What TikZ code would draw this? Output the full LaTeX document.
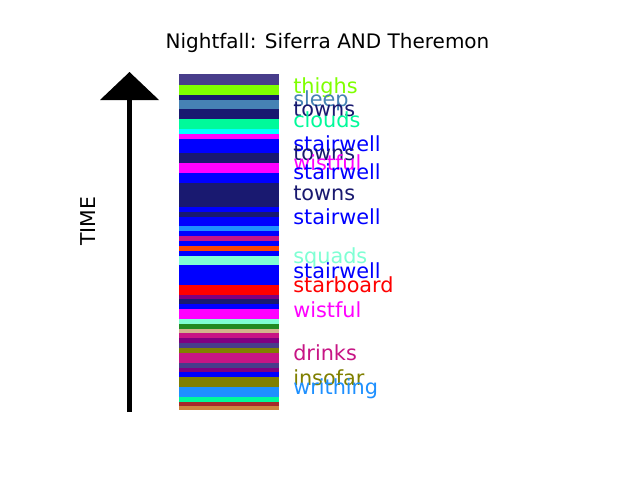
\documentclass[tikz,border=0pt]{standalone}
\usepackage{fontspec}
\setmainfont{DejaVu Sans}
\definecolor{dslateblue}{HTML}{483D8B}
\definecolor{chartr}{HTML}{7FFF00}
\definecolor{midnight}{HTML}{191970}
\definecolor{steel}{HTML}{4682B4}
\definecolor{mspring}{HTML}{00FA9A}
\definecolor{cyanc}{HTML}{00FFFF}
\definecolor{magentac}{HTML}{FF00FF}
\definecolor{bluec}{HTML}{0000FF}
\definecolor{dodger}{HTML}{1E90FF}
\definecolor{mviolet}{HTML}{C71585}
\definecolor{orangered}{HTML}{FF4500}
\definecolor{aquam}{HTML}{7FFFD4}
\definecolor{redc}{HTML}{FF0000}
\definecolor{purplec}{HTML}{800080}
\definecolor{forest}{HTML}{228B22}
\definecolor{tanc}{HTML}{D2B48C}
\definecolor{olivec}{HTML}{808000}
\definecolor{brownc}{HTML}{A52A2A}
\definecolor{peruc}{HTML}{CD853F}
\tikzset{
  lbl/.style={anchor=base west, inner sep=0pt, font=\fontsize{15.6pt}{18pt}\selectfont}
}
\begin{document}
\begin{tikzpicture}[x=0.75pt,y=-0.75pt]
\useasboundingbox[fill=white] (0,0) rectangle (640,480);
% title
\node[anchor=base, inner sep=0pt, font=\fontsize{15pt}{18pt}\selectfont] (title) at (327.5,48.5) {Nightfall: Siferra AND Theremon};
% stripes
\foreach \a/\b/\c in {74/85/dslateblue,85/95/chartr,95/100/midnight,100/109/steel,109/119/midnight,119/129/mspring,129/134/cyanc,134/139/magentac,139/147/bluec,147/153/bluec,153/163/midnight,163/173/magentac,173/183/bluec,183/207/midnight,207/212/bluec,212/217/midnight,217/226/bluec,226/231/dodger,231/236/bluec,236/241/mviolet,241/246/bluec,246/251/orangered,251/256/bluec,256/265/aquam,265/285/bluec,285/295/redc,295/299/purplec,299/304/midnight,304/309/bluec,309/319/magentac,319/324/aquam,324/329/forest,329/333/tanc,333/338/mviolet,338/343/purplec,343/348/dslateblue,348/353/olivec,353/363/mviolet,363/368/dslateblue,368/372/purplec,372/377/bluec,377/387/olivec,387/397/dodger,397/402/mspring,402/406/brownc,406/410/peruc}{
  \fill[\c] (179,\a) rectangle (279,\b);
}
% labels
\node[lbl, text=chartr] (l1) at (293,93.3) {thighs};
\node[lbl, text=steel] (l2) at (293,106) {sleep};
\node[lbl, text=midnight] (l3) at (293,116.7) {towns};
\node[lbl, text=mspring] (l4) at (293,127.7) {clouds};
\node[lbl, text=bluec] (l5) at (293,151) {stairwell};
\node[lbl, text=midnight] (l6) at (293,160.3) {towns};
\node[lbl, text=magentac] (l7) at (293,170.3) {wistful};
\node[lbl, text=bluec] (l8) at (293,179.3) {stairwell};
\node[lbl, text=midnight] (l9) at (293,200.5) {towns};
\node[lbl, text=bluec] (l10) at (293,224) {stairwell};
\node[lbl, text=aquam] (l11) at (293,263) {squads};
\node[lbl, text=bluec] (l12) at (293,278) {stairwell};
\node[lbl, text=redc] (l13) at (293,292) {starboard};
\node[lbl, text=magentac] (l14) at (293,317) {wistful};
\node[lbl, text=mviolet] (l15) at (293,360.5) {drinks};
\node[lbl, text=olivec] (l16) at (293,385) {insofar};
\node[lbl, text=dodger] (l17) at (293,394.5) {writhing};
% time arrow
\coordinate (tb) at (129.5,412);
\coordinate (tt) at (129.5,99);
\draw[line width=3.75pt] (tb) -- (tt);
\fill (100,100) -- (159,100) -- (129.5,72) -- cycle;
\node[rotate=90, inner sep=0pt, font=\fontsize{15.3pt}{18pt}\selectfont] (time) at (88.5,221) {TIME};
\end{tikzpicture}
\end{document}
